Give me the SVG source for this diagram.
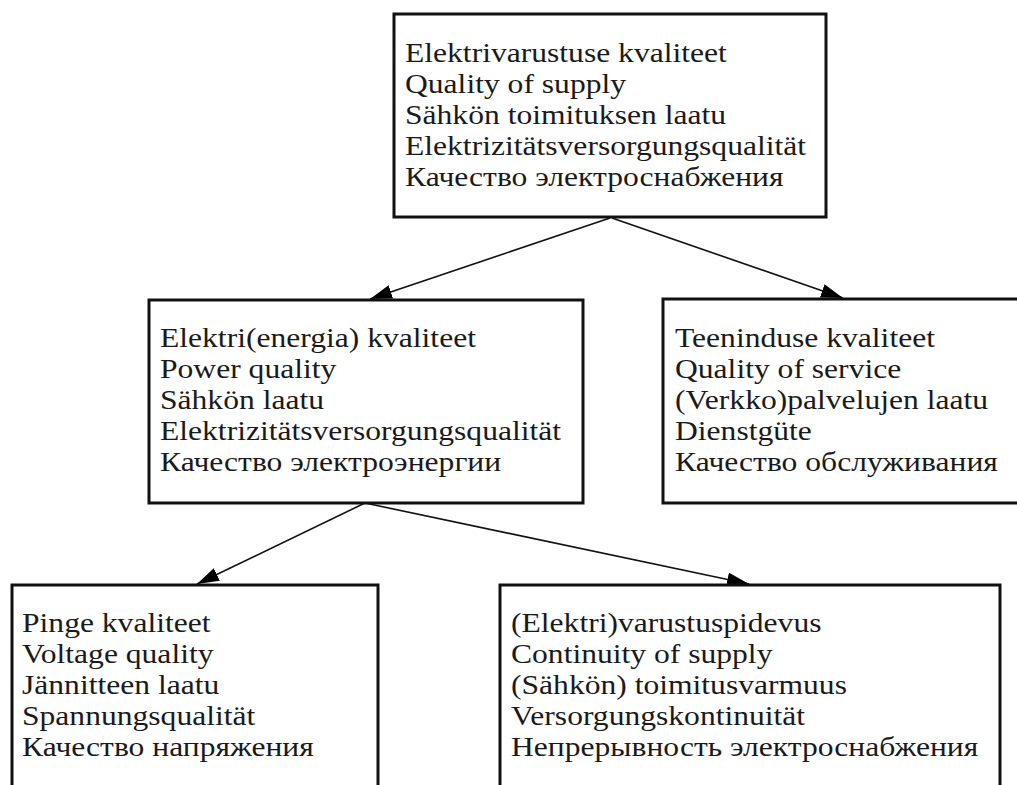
<svg xmlns="http://www.w3.org/2000/svg" width="1017" height="785" viewBox="0 0 1017 785">
<style>
.box{fill:#fff;stroke:#111;stroke-width:3}
.lbl{font-family:"Liberation Serif","Times New Roman",serif;font-size:27px;fill:#1a1a1a}
.edge{stroke:#111;stroke-width:1.6;fill:none;marker-end:url(#ah)}
</style>
<defs>
<marker id="ah" viewBox="0 0 22 14" refX="22" refY="7" markerWidth="22" markerHeight="14" markerUnits="userSpaceOnUse" orient="auto">
<path d="M0,0 L22,7 L0,14 z" fill="#000"/>
</marker>
</defs>
<rect width="1017" height="785" fill="#fff"/>
<g id="connectors">
<line class="edge" x1="610" y1="218" x2="370" y2="299"/>
<line class="edge" x1="612" y1="218" x2="843" y2="298"/>
<line class="edge" x1="365" y1="503" x2="197" y2="584"/>
<line class="edge" x1="365" y1="503" x2="749" y2="584"/>
</g>
<g id="n-supply">
<rect class="box" x="394" y="14" width="432" height="203"/>
<text class="lbl" transform="translate(405,62) scale(1.17,1)"><tspan x="0">Elektrivarustuse kvaliteet</tspan><tspan x="0" dy="31">Quality of supply</tspan><tspan x="0" dy="31">Sähkön toimituksen laatu</tspan><tspan x="0" dy="31">Elektrizitätsversorgungsqualität</tspan><tspan x="0" dy="31">Качество электроснабжения</tspan></text>
</g>
<g id="n-power">
<rect class="box" x="149" y="300" width="434" height="203"/>
<text class="lbl" transform="translate(160,347) scale(1.17,1)"><tspan x="0">Elektri(energia) kvaliteet</tspan><tspan x="0" dy="31">Power quality</tspan><tspan x="0" dy="31">Sähkön laatu</tspan><tspan x="0" dy="31">Elektrizitätsversorgungsqualität</tspan><tspan x="0" dy="31">Качество электроэнергии</tspan></text>
</g>
<g id="n-service">
<rect class="box" x="663" y="299" width="357" height="204"/>
<text class="lbl" transform="translate(675,347) scale(1.17,1)"><tspan x="0">Teeninduse kvaliteet</tspan><tspan x="0" dy="31">Quality of service</tspan><tspan x="0" dy="31">(Verkko)palvelujen laatu</tspan><tspan x="0" dy="31">Dienstgüte</tspan><tspan x="0" dy="31">Качество обслуживания</tspan></text>
</g>
<g id="n-voltage">
<rect class="box" x="12" y="585" width="366" height="220"/>
<text class="lbl" transform="translate(22,632) scale(1.17,1)"><tspan x="0">Pinge kvaliteet</tspan><tspan x="0" dy="31">Voltage quality</tspan><tspan x="0" dy="31">Jännitteen laatu</tspan><tspan x="0" dy="31">Spannungsqualität</tspan><tspan x="0" dy="31">Качество напряжения</tspan></text>
</g>
<g id="n-continuity">
<rect class="box" x="500" y="585" width="500" height="220"/>
<text class="lbl" transform="translate(511,632) scale(1.17,1)"><tspan x="0">(Elektri)varustuspidevus</tspan><tspan x="0" dy="31">Continuity of supply</tspan><tspan x="0" dy="31">(Sähkön) toimitusvarmuus</tspan><tspan x="0" dy="31">Versorgungskontinuität</tspan><tspan x="0" dy="31">Непрерывность электроснабжения</tspan></text>
</g>
</svg>
